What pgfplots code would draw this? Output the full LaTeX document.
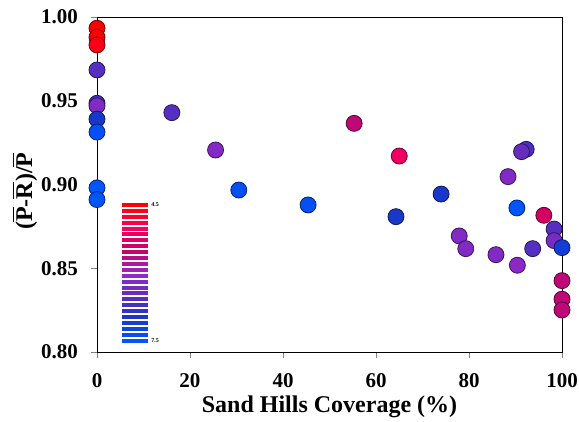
\documentclass[border=0pt]{standalone}
\usepackage{fontspec}
\setmainfont{Liberation Serif}
\usepackage{pgfplots}
\pgfplotsset{compat=1.18}
\begin{document}
\begin{tikzpicture}
\begin{axis}[
  name=ax,
  scale only axis,
  width=232.5pt, height=167.5pt,
  xmin=0, xmax=100, ymin=0.80, ymax=1.00,
  xtick={0,20,40,60,80,100},
  ytick={0.80,0.85,0.90,0.95,1.00},
  yticklabel style={/pgf/number format/.cd,fixed,fixed zerofill,precision=2},
  /pgf/number format/assume math mode=true,
  ticklabel style={font=\fontsize{10.5}{12}\selectfont\bfseries},
  xticklabel shift=4pt,
  yticklabel shift=3pt,
  tick align=outside,
  major tick length=3pt,
  xtick pos=bottom, ytick pos=left,
  xlabel={Sand Hills Coverage (\%)},
  ylabel={\textbf{($\overline{\mbox{P}}$-$\overline{\mbox{R}}$)/$\overline{\mbox{P}}$}},
  label style={font=\fontsize{12}{14}\selectfont\bfseries},
  xlabel style={at={(axis description cs:0.5,-0.164)}, anchor=center},
  ylabel style={at={(axis description cs:-0.155,0.48)}, anchor=center},
  clip=false,
  colormap={mine}{rgb255(0cm)=(255,0,0); rgb255(1cm)=(250,0,95); rgb255(2cm)=(200,0,100); rgb255(3cm)=(150,40,200); rgb255(4cm)=(100,45,190); rgb255(5cm)=(25,55,200); rgb255(6cm)=(0,85,255)},
  point meta min=4.5, point meta max=7.5,
]
% colour key stripes
\addplot[scatter, only marks, mark=-, mark size=6.5pt,
  mark options={line width=2pt},
  scatter/use mapped color={draw=mapped color, fill=mapped color},
  point meta=explicit]
table[meta=m]{
x y m
8.15 0.8878 4.50
8.15 0.8843 4.63
8.15 0.8808 4.76
8.15 0.8772 4.89
8.15 0.8737 5.02
8.15 0.8702 5.15
8.15 0.8667 5.28
8.15 0.8632 5.41
8.15 0.8596 5.54
8.15 0.8561 5.67
8.15 0.8526 5.80
8.15 0.8491 5.93
8.15 0.8456 6.07
8.15 0.8420 6.20
8.15 0.8385 6.33
8.15 0.8350 6.46
8.15 0.8315 6.59
8.15 0.8280 6.72
8.15 0.8244 6.85
8.15 0.8209 6.98
8.15 0.8174 7.11
8.15 0.8139 7.24
8.15 0.8104 7.37
8.15 0.8068 7.50
};
\node[anchor=west, font=\fontsize{3}{3}\selectfont\bfseries, inner sep=1pt] at (axis cs:11.2,0.8878) {4.5};
\node[anchor=west, font=\fontsize{3}{3}\selectfont\bfseries, inner sep=1pt] at (axis cs:11.2,0.8068) {7.5};
% data
\addplot[scatter, only marks, mark=*, mark size=4pt,
  mark options={line width=0.4pt},
  scatter/use mapped color={draw=mapped color!45!black, fill=mapped color},
  point meta=explicit]
table[meta=m]{
x y m
0 0.9933 4.5
0 0.9879 4.5
0 0.9833 4.6
0 0.9684 6.6
0 0.9485 6.8
0 0.9470 6.2
0 0.9390 7.0
0 0.9313 7.4
0 0.8980 7.5
0 0.8910 7.5
16.1 0.9429 6.6
25.5 0.9206 6.2
30.5 0.8967 7.4
45.4 0.8878 7.4
55.3 0.9365 5.6
65.0 0.9170 5.1
74.0 0.8943 7.0
64.3 0.8808 7.0
77.9 0.8693 6.2
79.3 0.8617 6.2
85.8 0.8581 6.2
90.4 0.8518 6.1
93.7 0.8617 6.6
88.4 0.9047 6.2
92.3 0.9210 6.7
91.3 0.9196 6.5
90.3 0.8860 7.5
96.1 0.8816 5.4
98.3 0.8734 6.6
98.3 0.8665 6.3
100 0.8623 7.1
100 0.8426 5.6
100 0.8315 5.6
100 0.8251 5.6
};
\end{axis}
\pgfresetboundingbox
\path ([xshift=-48.5pt,yshift=-35pt]ax.south west) rectangle ([xshift=8.5pt,yshift=8.5pt]ax.north east);
\end{tikzpicture}
\end{document}
